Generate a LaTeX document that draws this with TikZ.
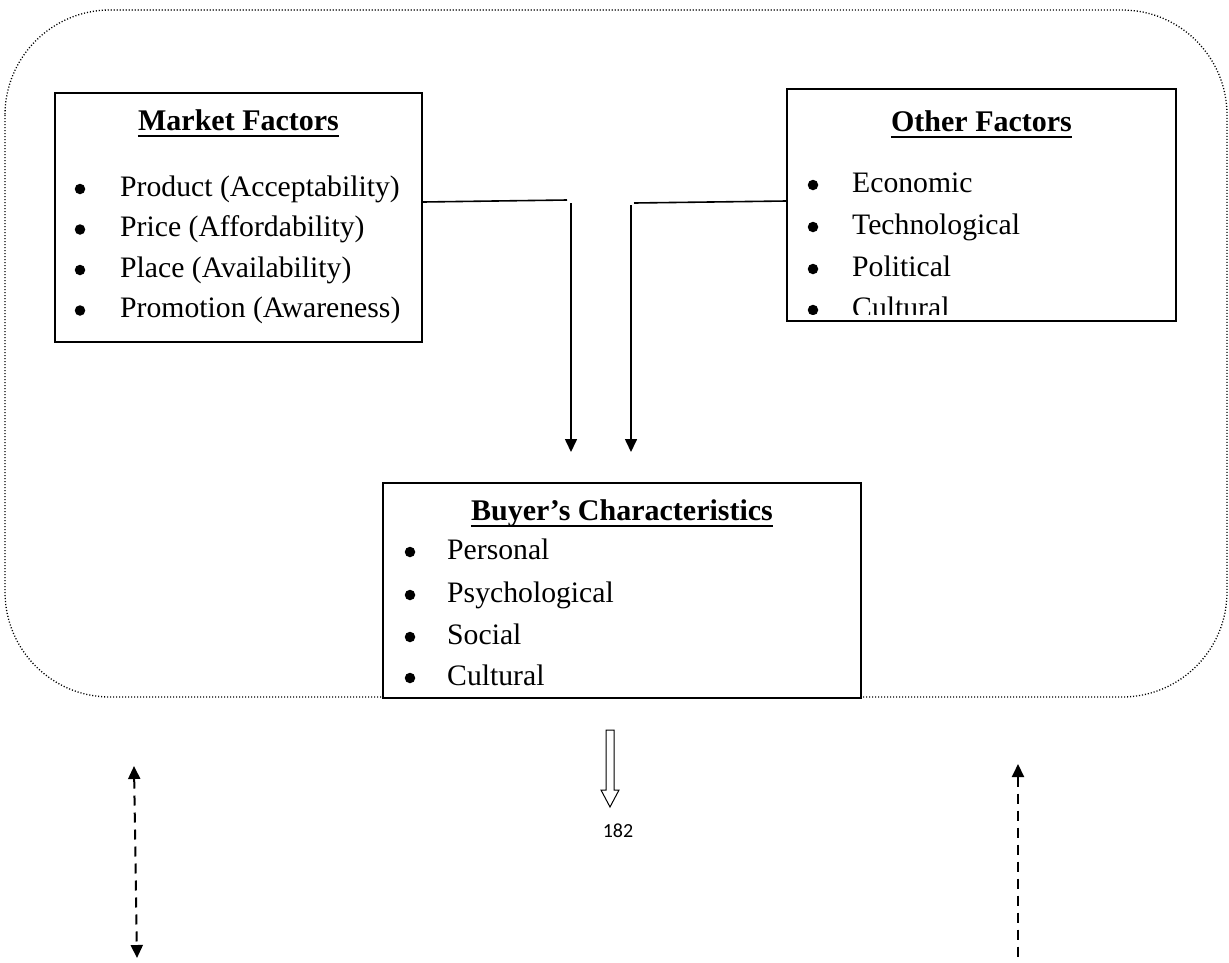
\documentclass[tikz,border=0pt]{standalone}
\usepackage{fontspec}
\setmainfont{Liberation Serif}
\newfontfamily\calib{Carlito}
\usetikzlibrary{arrows.meta}
\begin{document}
\begin{tikzpicture}[x=1pt,y=-1pt,
  box/.style={draw=black,line width=1.4pt,fill=white,inner sep=0pt},
  item/.style={anchor=base west,inner sep=0pt,font=\fontsize{29.7}{35}\selectfont},
  ttl/.style={anchor=base,inner sep=0pt,font=\fontsize{30}{35}\selectfont\bfseries},
  bul/.style={circle,fill=black,inner sep=0pt,minimum size=10.5pt},
  uline/.style={line width=2.6pt},
  conn/.style={line width=1.6pt},
  arr/.style={conn,-{Triangle[length=13pt,width=12pt]}},
  dsh/.style={line width=2pt,dash pattern=on 10pt off 7pt},
  dotbox/.style={line width=1.3pt,dash pattern=on 1.1pt off 1.9pt,rounded corners=105pt}
]
\useasboundingbox (0,0) rectangle (1229,962);
% outer dotted frame
\draw[dotbox] (5,10) rectangle (1227,697);

% Market factors
\node[box,minimum width=367pt,minimum height=249pt] (mf) at (238.5,217.5) {};
\node[ttl] (mft) at (238.5,130) {Market Factors};
\draw[uline] ([yshift=-6pt]mft.base west) -- ([yshift=-6pt]mft.base east);
\node[bul] (mfb1) at (80,189) {};
\node[bul] (mfb2) at (80,229.5) {};
\node[bul] (mfb3) at (80,270) {};
\node[bul] (mfb4) at (80,310.5) {};
\node[item] (mf1) at (120,196) {Product (Acceptability)};
\node[item] (mf2) at (120,236.5) {Price (Affordability)};
\node[item] (mf3) at (120,277) {Place (Availability)};
\node[item] (mf4) at (120,317.5) {Promotion (Awareness)};

% Other factors
\node[box,minimum width=389pt,minimum height=232pt] (of) at (981.5,205) {};
\node[ttl] (oft) at (981.5,131) {Other Factors};
\draw[uline] ([yshift=-6pt]oft.base west) -- ([yshift=-6pt]oft.base east);
\begin{scope}
\clip (788,90) rectangle (1175,314);
\node[bul] (ofb1) at (813,185) {};
\node[bul] (ofb2) at (813,227) {};
\node[bul] (ofb3) at (813,269) {};
\node[bul] (ofb4) at (813,310) {};
\node[item] (of1) at (852,192) {Economic};
\node[item] (of2) at (852,234) {Technological};
\node[item] (of3) at (852,276) {Political};
\node[item] (of4) at (852,317) {Cultural};
\end{scope}

% Buyer's characteristics
\node[box,minimum width=478pt,minimum height=215pt] (bc) at (622,590.5) {};
\node[ttl] (bct) at (622,520) {Buyer’s Characteristics};
\draw[uline] ([yshift=-6pt]bct.base west) -- ([yshift=-6pt]bct.base east);
\node[bul] (bcb1) at (410,552) {};
\node[bul] (bcb2) at (410,595) {};
\node[bul] (bcb3) at (410,637) {};
\node[bul] (bcb4) at (410,678) {};
\node[item] (bc1) at (447,559) {Personal};
\node[item] (bc2) at (447,602) {Psychological};
\node[item] (bc3) at (447,644) {Social};
\node[item] (bc4) at (447,685) {Cultural};

% connectors
\coordinate (l1) at (567,200);
\coordinate (l2) at (571,203);
\coordinate (l3) at (571,452);
\coordinate (r1) at (634,203);
\coordinate (r2) at (631,205);
\coordinate (r3) at (631,452);
\draw[conn] ([yshift=15.5pt]mf.east) -- (l1);
\draw[arr] (l2) -- (l3);
\draw[conn] ([yshift=4pt]of.west) -- (r1);
\draw[arr] (r2) -- (r3);

% hollow arrow and page number
\draw[line width=1pt,fill=white] (606,730) -- (614,730) -- (614,790) -- (619,790) -- (610,807) -- (601,790) -- (606,790) -- cycle;
\node[inner sep=0pt,font=\calib\fontsize{20}{24}\selectfont] (pg) at (618,831) {182};

% dashed arrows
\coordinate (d1) at (134,766);
\coordinate (d2) at (137,958);
\coordinate (e1) at (1018,764);
\coordinate (e2) at (1018,962);
\draw[dsh,{Triangle[length=13pt,width=12pt]}-{Triangle[length=13pt,width=12pt]}] (d1) -- (d2);
\draw[dsh,{Triangle[length=13pt,width=12pt]}-] (e1) -- (e2);
\end{tikzpicture}
\end{document}
